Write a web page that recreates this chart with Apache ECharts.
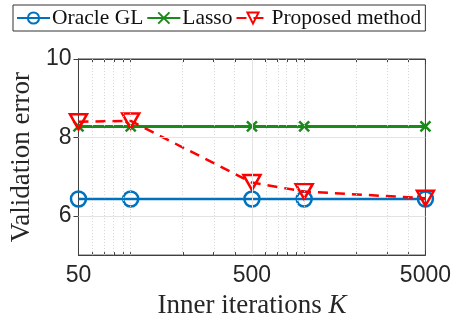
<!DOCTYPE html>
<html><head><meta charset="utf-8">
<script src="https://cdn.jsdelivr.net/npm/echarts@6/dist/echarts.min.js"></script>
<style>html,body{margin:0;padding:0;background:#fff}#c{width:454px;height:324px}</style>
</head><body><div id="c"></div>
<script>
const iterations = [50, 100, 500, 1000, 5000];
const oracleGL = [6.43, 6.43, 6.43, 6.43, 6.43];
const lasso = [8.28, 8.28, 8.28, 8.28, 8.28];
const proposed = [8.40, 8.42, 6.85, 6.62, 6.45];
const xTickLabels = [50, 500, 5000];
const yTickLabels = [6, 8, 10];
const minorX = [60,70,80,90,100,200,300,400,600,700,800,900,1000,2000,3000,4000];

const base = 50;
const lx = v => Math.log10(v / base);
const pts = arr => iterations.map((k, i) => [lx(k), arr[i]]);

const axisColor = '#404040';
const serif = 'Liberation Serif';
const sans = 'Liberation Sans';

const chart = echarts.init(document.getElementById('c'), null, {renderer: 'canvas'});
const gridLineY = yTickLabels.filter(v => v < 10).map(v => ({yAxis: v}));
const minorLines = minorX.map(v => ({xAxis: lx(v)}));
const majorXLines = xTickLabels.slice(1, -1).map(v => ({xAxis: lx(v)}));

chart.setOption({
  animation: false,
  grid: {left: 75.5, right: 28.5, top: 59, bottom: 65, show: true, borderColor: axisColor, borderWidth: 1, backgroundColor: '#fff'},
  legend: {
    left: 13, top: 5, padding: [2, 4, 2, 3], itemGap: 3, itemWidth: 33, itemHeight: 14,
    borderColor: '#333', borderWidth: 1, backgroundColor: '#fff',
    textStyle: {fontFamily: serif, fontSize: 21.5, color: '#111', padding: [0, 0, 0, -3]},
    data: ['Oracle GL', 'Lasso', 'Proposed method']
  },
  xAxis: [
    {type: 'value', position: 'bottom', min: 0, max: 2, interval: 1,
     axisLine: {show: true, lineStyle: {color: axisColor, width: 1}},
     axisTick: {show: true, inside: true, length: 5, lineStyle: {color: axisColor}},
     axisLabel: {margin: 9, fontFamily: sans, fontSize: 23, color: '#262626',
       formatter: v => String(Math.round(base * Math.pow(10, v)))},
     splitLine: {show: false},
     name: '{a|Inner iterations }{b|K}', nameLocation: 'middle', nameGap: 36,
     nameTextStyle: {rich: {a: {fontFamily: serif, fontSize: 27, color: '#262626'}, b: {fontFamily: serif, fontSize: 27, fontStyle: 'italic', color: '#262626'}}}},
    {type: 'value', position: 'top', min: 0, max: 2, interval: 1,
     axisLine: {show: true, lineStyle: {color: axisColor}},
     axisTick: {show: true, inside: true, length: 5, lineStyle: {color: axisColor}},
     axisLabel: {show: false}, splitLine: {show: false}},
    {type: 'value', position: 'bottom', min: 0, max: 2, interval: 1,
     axisLine: {show: false},
     axisTick: {show: true, inside: true, length: 3, customValues: minorX.map(lx), lineStyle: {color: axisColor}},
     axisLabel: {show: false}, splitLine: {show: false}},
    {type: 'value', position: 'top', min: 0, max: 2, interval: 1,
     axisLine: {show: false},
     axisTick: {show: true, inside: true, length: 3, customValues: minorX.map(lx), lineStyle: {color: axisColor}},
     axisLabel: {show: false}, splitLine: {show: false}}
  ],
  yAxis: [
    {type: 'value', position: 'left', min: 5, max: 10, interval: 1,
     axisLine: {show: true, lineStyle: {color: axisColor}},
     axisTick: {show: true, inside: true, length: 5, customValues: yTickLabels, lineStyle: {color: axisColor}},
     axisLabel: {margin: 7, fontFamily: sans, fontSize: 23, color: '#262626', customValues: yTickLabels,
       formatter: v => (yTickLabels.indexOf(v) >= 0 ? String(v) : '')},
     splitLine: {show: false},
     name: 'Validation error', nameLocation: 'middle', nameGap: 40, nameRotate: 90,
     nameTextStyle: {fontFamily: serif, fontSize: 27, color: '#262626'}},
    {type: 'value', position: 'right', min: 5, max: 10, interval: 1,
     axisLine: {show: true, lineStyle: {color: axisColor}},
     axisTick: {show: true, inside: true, length: 5, customValues: yTickLabels, lineStyle: {color: axisColor}},
     axisLabel: {show: false}, splitLine: {show: false}}
  ],
  series: [
    {name: '_grid', type: 'line', data: [], silent: true,
     markLine: {silent: true, symbol: 'none', label: {show: false}, animation: false,
       data: minorLines.map(d => Object.assign({lineStyle: {type: [1, 2], color: '#d4d4d4', width: 1}}, d))
         .concat(majorXLines.map(d => Object.assign({lineStyle: {type: 'solid', color: '#e3e3e3', width: 1}}, d)))
         .concat(gridLineY.map(d => Object.assign({lineStyle: {type: 'solid', color: '#e3e3e3', width: 1}}, d)))}},
    {name: 'Oracle GL', type: 'line', data: pts(oracleGL), z: 3,
     lineStyle: {color: '#0072BD', width: 2.5}, symbol: 'circle', symbolSize: 15, showAllSymbol: true,
     itemStyle: {color: 'rgba(255,255,255,0)', borderColor: '#0072BD', borderWidth: 2.5}},
    {name: 'Lasso', type: 'line', data: pts(lasso), z: 3,
     lineStyle: {color: '#1a8a1a', width: 3}, symbol: 'path://M0,0L10,10M10,0L0,10', symbolSize: 10,
     itemStyle: {color: 'rgba(0,0,0,0)', borderColor: '#1a8a1a', borderWidth: 2.5}},
    {name: 'Proposed method', type: 'line', data: pts(proposed), z: 4,
     lineStyle: {color: '#ff0000', width: 2.5, type: [10, 7]}, symbol: 'triangle', symbolRotate: 180, symbolSize: [17, 15],
     itemStyle: {color: 'rgba(255,255,255,0)', borderColor: '#ff0000', borderWidth: 2.5}}
  ]
});
</script></body></html>
